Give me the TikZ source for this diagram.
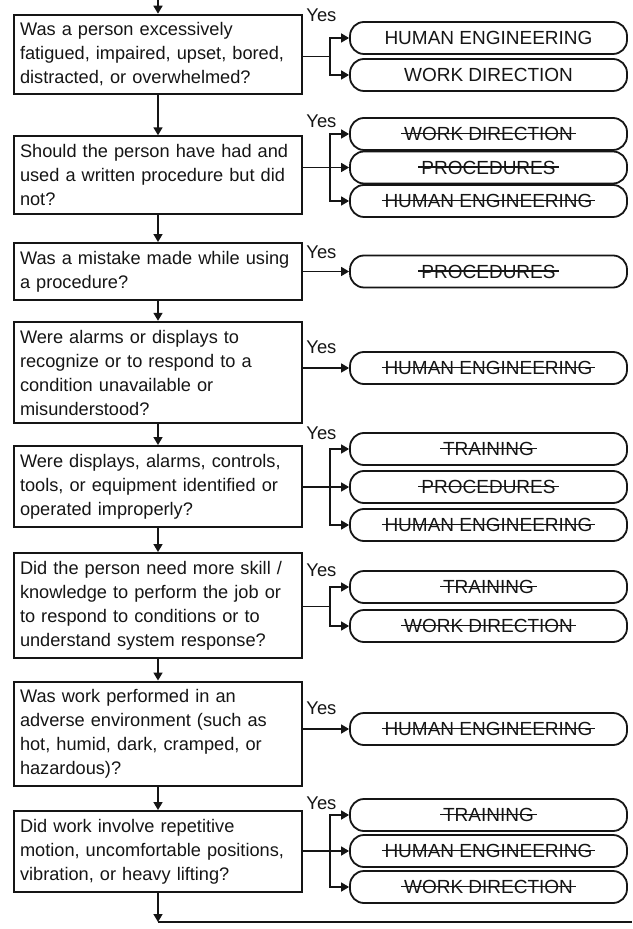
\documentclass[tikz,border=0pt]{standalone}
\usepackage{fontspec}
\setmainfont{Liberation Sans}
\usetikzlibrary{arrows.meta}
\definecolor{ChartInk}{HTML}{151515}
\hyphenpenalty=10000
\newcommand\struck[1]{\setbox0\hbox{#1}\leavevmode\rlap{\kern-1.5pt\vrule height 3.9pt depth -3.2pt width \dimexpr\wd0+3pt\relax}\box0}

\begin{document}
\begin{tikzpicture}[
    x=0.5pt,y=-0.5pt,
    question/.style={draw=ChartInk,line width=1pt,text=ChartInk,align=left,text width=138pt,inner xsep=3pt,inner ysep=4pt,font=\fontsize{9.1}{12}\selectfont},
    outcome/.style={draw=ChartInk,line width=0.9pt,rounded corners=7pt,minimum width=138.5pt,minimum height=16pt,inner sep=0pt,text=ChartInk,font=\fontsize{9.5}{11}\selectfont},
    yes/.style={anchor=west,inner sep=0pt,text=ChartInk,font=\fontsize{9.2}{11}\selectfont},
    flow/.style={draw=ChartInk,line width=0.8pt,-{Triangle[length=4pt,width=4.5pt]}},
    wire/.style={draw=ChartInk,line width=0.8pt}
  ]
    \useasboundingbox (0,0) rectangle (632,929);

    \node[question] (q1) at (158,54.5) {Was a person excessively\\fatigued, impaired, upset, bored,\\distracted, or overwhelmed?};
    \node[question] (q2) at (158,175) {Should the person have had and\\used a written procedure but did\\not?};
    \node[question] (q3) at (158,271.5) {Was a mistake made while using\\a procedure?};
    \node[question] (q4) at (158,372.5) {Were alarms or displays to\\recognize or to respond to a\\condition unavailable or\\misunderstood?};
    \node[question] (q5) at (158,486.5) {Were displays, alarms, controls,\\tools, or equipment identified or\\operated improperly?};
    \node[question] (q6) at (158,605.5) {Did the person need more skill /\\knowledge to perform the job or\\to respond to conditions or to\\understand system response?};
    \node[question] (q7) at (158,734) {Was work performed in an\\adverse environment (such as\\hot, humid, dark, cramped, or\\hazardous)?};
    \node[question] (q8) at (158,851.5) {Did work involve repetitive\\motion, uncomfortable positions,\\vibration, or heavy lifting?};

    \node[outcome] (o1a) at (488.5,38) {HUMAN ENGINEERING};
    \node[outcome] (o1b) at (488.5,75) {WORK DIRECTION};
    \node[outcome] (o2a) at (488.5,134) {\struck{WORK DIRECTION}};
    \node[outcome] (o2b) at (488.5,167.5) {\struck{PROCEDURES}};
    \node[outcome] (o2c) at (488.5,201) {\struck{HUMAN ENGINEERING}};
    \node[outcome] (o3a) at (488.5,271.5) {\struck{PROCEDURES}};
    \node[outcome] (o4a) at (488.5,368) {\struck{HUMAN ENGINEERING}};
    \node[outcome] (o5a) at (488.5,449) {\struck{TRAINING}};
    \node[outcome] (o5b) at (488.5,487) {\struck{PROCEDURES}};
    \node[outcome] (o5c) at (488.5,525) {\struck{HUMAN ENGINEERING}};
    \node[outcome] (o6a) at (488.5,587) {\struck{TRAINING}};
    \node[outcome] (o6b) at (488.5,626) {\struck{WORK DIRECTION}};
    \node[outcome] (o7a) at (488.5,729) {\struck{HUMAN ENGINEERING}};
    \node[outcome] (o8a) at (488.5,815) {\struck{TRAINING}};
    \node[outcome] (o8b) at (488.5,851) {\struck{HUMAN ENGINEERING}};
    \node[outcome] (o8c) at (488.5,887) {\struck{WORK DIRECTION}};

    \node[yes] (y1) at (306,15) {Yes};
    \node[yes] (y2) at (306,121) {Yes};
    \node[yes] (y3) at (306,252) {Yes};
    \node[yes] (y4) at (306,347) {Yes};
    \node[yes] (y5) at (306,433) {Yes};
    \node[yes] (y6) at (306,570) {Yes};
    \node[yes] (y7) at (306,708) {Yes};
    \node[yes] (y8) at (306,803) {Yes};

    \coordinate (entry) at (158,0);
    \coordinate (exit) at (158,922);
    \coordinate (edge) at (632,922);
    \coordinate (j1) at (330,56.5);
    \coordinate (j2) at (330,167.5);
    \coordinate (j5) at (330,487);
    \coordinate (j6) at (330,606.5);
    \coordinate (j8) at (330,851);

    \draw[flow] (entry) -- (q1);
    \foreach \a/\b in {q1/q2,q2/q3,q3/q4,q4/q5,q5/q6,q6/q7,q7/q8}
      \draw[flow] (\a) -- (\b);
    \draw[flow] (q8) -- (exit);
    \draw[wire] (exit) -- (edge);

    \draw[wire] (q1.east |- j1) -- (j1);
    \draw[flow] (j1) |- (o1a);
    \draw[flow] (j1) |- (o1b);
    \draw[wire] (q2.east |- j2) -- (j2);
    \draw[flow] (j2) |- (o2a);
    \draw[flow] (j2) -- (o2b);
    \draw[flow] (j2) |- (o2c);
    \draw[flow] (q3.east |- o3a) -- (o3a);
    \draw[flow] (q4.east |- o4a) -- (o4a);
    \draw[wire] (q5.east |- j5) -- (j5);
    \draw[flow] (j5) |- (o5a);
    \draw[flow] (j5) -- (o5b);
    \draw[flow] (j5) |- (o5c);
    \draw[wire] (q6.east |- j6) -- (j6);
    \draw[flow] (j6) |- (o6a);
    \draw[flow] (j6) |- (o6b);
    \draw[flow] (q7.east |- o7a) -- (o7a);
    \draw[wire] (q8.east |- j8) -- (j8);
    \draw[flow] (j8) |- (o8a);
    \draw[flow] (j8) -- (o8b);
    \draw[flow] (j8) |- (o8c);
  \end{tikzpicture}
\end{document}
